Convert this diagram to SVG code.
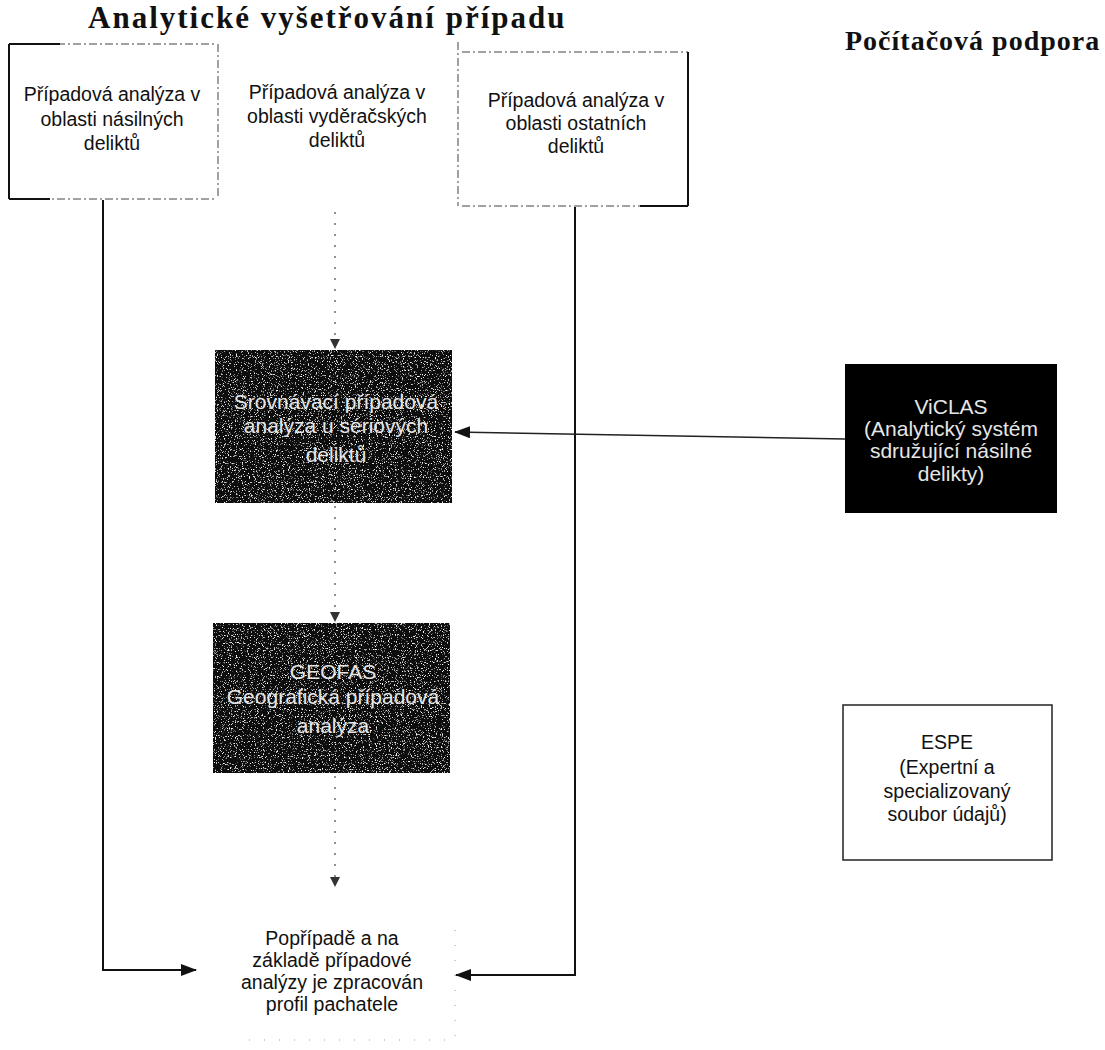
<svg xmlns="http://www.w3.org/2000/svg" width="1105" height="1050" viewBox="0 0 1105 1050">
<style>
.title{font-family:"Liberation Serif","Times New Roman",serif;font-weight:bold;fill:#111}
.t{font-family:"Liberation Sans",Arial,sans-serif;font-size:19.5px;fill:#111;text-anchor:middle}
.w{font-family:"Liberation Sans",Arial,sans-serif;font-size:21px;fill:#e6e6e6;text-anchor:middle}
.edge{fill:none;stroke:#111;stroke-width:2}
.dot{fill:none;stroke:#555;stroke-width:1.3;stroke-dasharray:2 9}
.dash{fill:none;stroke:#444;stroke-width:1;stroke-dasharray:8 3 2 3}
.faint{fill:none;stroke:#999;stroke-width:1;stroke-dasharray:1 14}
.dark{fill:#0a0a0a}
</style>
<defs>
<marker id="ah" viewBox="0 0 16 12" refX="15" refY="6" markerWidth="16" markerHeight="12" markerUnits="userSpaceOnUse" orient="auto">
<path d="M0,0 L16,6 L0,12 Z" fill="#111"/>
</marker>
<marker id="ahs" viewBox="0 0 10 10" refX="9" refY="5" markerWidth="10" markerHeight="10" markerUnits="userSpaceOnUse" orient="auto">
<path d="M0,0 L10,5 L0,10 Z" fill="#333"/>
</marker>
<filter id="grain" x="0" y="0" width="1" height="1">
<feTurbulence type="fractalNoise" baseFrequency="0.85" numOctaves="2" seed="7" result="n"/>
<feColorMatrix in="n" type="matrix" values="0 0 0 0 1  0 0 0 0 1  0 0 0 0 1  6 0 0 0 -3.6" result="specks"/>
<feComposite in="specks" in2="SourceGraphic" operator="in" result="clip"/>
<feMerge><feMergeNode in="SourceGraphic"/><feMergeNode in="clip"/></feMerge>
</filter>
</defs>
<rect width="1105" height="1050" fill="#fff"/>

<g id="headings">
<text class="title" x="88" y="28" font-size="31" letter-spacing="2">Analytické vyšetřování případu</text>
<text class="title" x="845" y="50" font-size="28" letter-spacing="1">Počítačová podpora</text>
</g>

<g id="node-nasilne">
<path class="dash" d="M9,44 H217 M9,199 H217"/>
<path class="edge" stroke-width="1.5" d="M9,44 V199 M9,44 H60 M9,199 H50"/>
<text class="t" x="112" y="101">Případová analýza v</text>
<text class="t" x="112" y="126">oblasti násilných</text>
<text class="t" x="112" y="150">deliktů</text>
</g>

<g id="node-vyderacske">
<path class="dash" d="M218,44 V198 M458,42 V206"/>
<text class="t" x="337" y="99" font-size="21">Případová analýza v</text>
<text class="t" x="337" y="123" font-size="21">oblasti vyděračských</text>
<text class="t" x="337" y="147" font-size="21">deliktů</text>
</g>

<g id="node-ostatni">
<path class="dash" d="M462,52 H688 M462,206 H688"/>
<path class="edge" stroke-width="1.5" d="M688,52 V206 M688,206 H640"/>
<text class="t" x="576" y="107" font-size="20">Případová analýza v</text>
<text class="t" x="576" y="130" font-size="20">oblasti ostatních</text>
<text class="t" x="576" y="153" font-size="20">deliktů</text>
</g>

<g id="node-srovnavaci">
<rect class="dark" x="215" y="350" width="237" height="153" filter="url(#grain)"/>
<text class="w" x="336" y="409">Srovnávací případová</text>
<text class="w" x="336" y="433">analýza u sériových</text>
<text class="w" x="336" y="462">deliktů</text>
</g>

<g id="node-geofas">
<rect class="dark" x="213" y="623" width="237" height="150" filter="url(#grain)"/>
<text class="w" x="333" y="679">GEOFAS</text>
<text class="w" x="333" y="704">Geografická případová</text>
<text class="w" x="333" y="733">analýza</text>
</g>

<g id="node-viclas">
<rect x="845" y="364" width="212" height="149" fill="#000"/>
<text class="w" x="951" y="414" font-size="19.5">ViCLAS</text>
<text class="w" x="951" y="436" font-size="19.5">(Analytický systém</text>
<text class="w" x="951" y="458" font-size="19.5">sdružující násilné</text>
<text class="w" x="951" y="481" font-size="19.5">delikty)</text>
</g>

<g id="node-espe">
<rect x="843" y="705" width="209" height="155" fill="#fff" stroke="#222" stroke-width="1.5"/>
<text class="t" x="947" y="749" font-size="18">ESPE</text>
<text class="t" x="947" y="774" font-size="18">(Expertní a</text>
<text class="t" x="947" y="798" font-size="18">specializovaný</text>
<text class="t" x="947" y="821" font-size="18">soubor údajů)</text>
</g>

<g id="node-profil">
<path class="faint" d="M455,930 V1040 H240"/>
<text class="t" x="332" y="945" font-size="18.5">Popřípadě a na</text>
<text class="t" x="332" y="967" font-size="18.5">základě případové</text>
<text class="t" x="332" y="989" font-size="18.5">analýzy je zpracován</text>
<text class="t" x="332" y="1011" font-size="18.5">profil pachatele</text>
</g>

<g id="connectors">
<path class="edge" d="M103,200 V970 H196" marker-end="url(#ah)"/>
<path class="edge" d="M575,207 V975 H456" marker-end="url(#ah)"/>
<path class="dot" d="M335,212 V348" marker-end="url(#ahs)"/>
<path class="dot" d="M335,506 V621" marker-end="url(#ahs)"/>
<path class="dot" d="M335,776 V886" marker-end="url(#ahs)"/>
<path fill="none" stroke="#222" stroke-width="1.5" d="M845,439 L455,432" marker-end="url(#ah)"/>
</g>
</svg>
